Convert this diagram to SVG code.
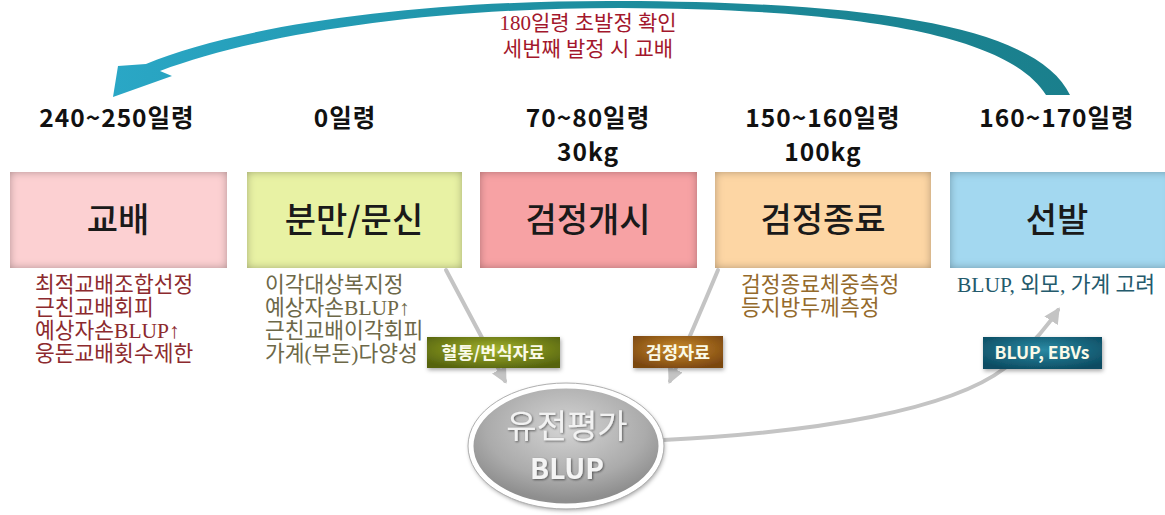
<svg xmlns="http://www.w3.org/2000/svg" width="1165" height="515" viewBox="0 0 1165 515">
<style>
.age{font-family:"Noto Sans CJK KR","Noto Sans",sans-serif;font-weight:700;font-size:24.5px;letter-spacing:1px;fill:#111;text-anchor:middle}
.title{font-family:"Noto Sans CJK KR",sans-serif;font-weight:500;font-size:34px;fill:#1a1a1a;text-anchor:middle}
.sub{font-family:"Liberation Serif","Noto Sans CJK KR",serif;font-size:21.5px}
.top{font-family:"Liberation Serif","Noto Sans CJK KR",serif;font-size:21px;fill:#a3172c;text-anchor:middle}
.lbl{font-family:"Noto Sans CJK KR","Noto Sans",sans-serif;font-weight:700;font-size:17.5px;fill:#fafae8;text-anchor:middle}
.gline{fill:none;stroke:#c4c4c4;stroke-width:4;stroke-linecap:round}
</style>
<defs>
<filter id="inset" x="-6%" y="-12%" width="112%" height="124%">
<feComponentTransfer in="SourceAlpha" result="inv"><feFuncA type="table" tableValues="1 0"/></feComponentTransfer>
<feGaussianBlur in="inv" stdDeviation="4" result="b"/>
<feComposite in="b" in2="SourceAlpha" operator="in" result="s"/>
<feFlood flood-color="#000" flood-opacity="0.6"/>
<feComposite in2="s" operator="in" result="sh"/>
<feMerge><feMergeNode in="SourceGraphic"/><feMergeNode in="sh"/></feMerge>
</filter>
<filter id="drop" x="-20%" y="-20%" width="140%" height="140%">
<feGaussianBlur in="SourceAlpha" stdDeviation="2"/>
<feOffset dx="1" dy="2" result="o"/>
<feFlood flood-color="#000" flood-opacity="0.35"/>
<feComposite in2="o" operator="in"/>
<feMerge><feMergeNode/><feMergeNode in="SourceGraphic"/></feMerge>
</filter>
<filter id="tsh" x="-10%" y="-20%" width="120%" height="140%">
<feGaussianBlur in="SourceAlpha" stdDeviation="1"/>
<feOffset dx="1" dy="1" result="o"/>
<feFlood flood-color="#000" flood-opacity="0.5"/>
<feComposite in2="o" operator="in"/>
<feMerge><feMergeNode/><feMergeNode in="SourceGraphic"/></feMerge>
</filter>
<linearGradient id="teal" x1="0" y1="0" x2="1" y2="0">
<stop offset="0" stop-color="#2aa7c6"/>
<stop offset="0.5" stop-color="#1d8d9e"/>
<stop offset="1" stop-color="#1a7f8c"/>
</linearGradient>
<radialGradient id="gOlive" cx="50%" cy="40%" r="65%">
<stop offset="0" stop-color="#a2b22c"/><stop offset="1" stop-color="#56640e"/>
</radialGradient>
<radialGradient id="gBrown" cx="50%" cy="40%" r="65%">
<stop offset="0" stop-color="#c98a2a"/><stop offset="1" stop-color="#7a4610"/>
</radialGradient>
<radialGradient id="gTeal" cx="50%" cy="40%" r="65%">
<stop offset="0" stop-color="#2a8aa4"/><stop offset="1" stop-color="#0c4c62"/>
</radialGradient>
<radialGradient id="gEll" cx="50%" cy="35%" r="60%">
<stop offset="0" stop-color="#d4d4d4"/><stop offset="0.7" stop-color="#ababab"/><stop offset="1" stop-color="#8e8e8e"/>
</radialGradient>
<marker id="ah" viewBox="0 0 10 10" refX="8" refY="5" markerWidth="4" markerHeight="4" orient="auto">
<path d="M0,0 L10,5 L0,10 Z" fill="#c4c4c4"/>
</marker>
</defs>

<g id="connectors">
<path id="arc-top" d="M1070,95 C1040,32 900,2 620,1 C420,0 240,25 146,64 L118,66 L113,97 L172,76 L160,71 C262,33 430,8 620,8 C880,9 1012,40 1046,95 Z" fill="url(#teal)"/>
<path class="gline" d="M446,270 Q478,330 505,381" marker-end="url(#ah)"/>
<path class="gline" d="M718,270 Q693,330 670,381" marker-end="url(#ah)"/>
<path class="gline" d="M663,440 C820,432 950,410 1005,368 Q1040,338 1058,310" marker-end="url(#ah)"/>
</g>

<g id="top-note">
<text class="top" x="588" y="30">180일령 초발정 확인</text>
<text class="top" x="588" y="56">세번째 발정 시 교배</text>
</g>

<g id="ages">
<text class="age" x="117" y="127">240~250일령</text>
<text class="age" x="345" y="127">0일령</text>
<text class="age" x="588" y="127">70~80일령</text>
<text class="age" x="588" y="161">30kg</text>
<text class="age" x="823" y="127">150~160일령</text>
<text class="age" x="823" y="161">100kg</text>
<text class="age" x="1057" y="127">160~170일령</text>
</g>

<g id="node-mating">
<rect x="10" y="172" width="217" height="96" fill="#fcd0d2" filter="url(#inset)"/>
<text class="title" x="118" y="232">교배</text>
<text class="sub" fill="#8c2a2e" x="35" y="292">최적교배조합선정</text>
<text class="sub" fill="#8c2a2e" x="35" y="315">근친교배회피</text>
<text class="sub" fill="#8c2a2e" x="35" y="338">예상자손BLUP↑</text>
<text class="sub" fill="#8c2a2e" x="35" y="361">웅돈교배횟수제한</text>
</g>

<g id="node-farrowing">
<rect x="247" y="172" width="215" height="96" fill="#e8f2a4" filter="url(#inset)"/>
<text class="title" x="354" y="232">분만/문신</text>
<text class="sub" fill="#6d6848" x="265" y="292">이각대상복지정</text>
<text class="sub" fill="#6d6848" x="265" y="315">예상자손BLUP↑</text>
<text class="sub" fill="#6d6848" x="265" y="338">근친교배이각회피</text>
<text class="sub" fill="#6d6848" x="265" y="361">가계(부돈)다양성</text>
</g>

<g id="node-test-start">
<rect x="480" y="172" width="217" height="96" fill="#f7a2a4" filter="url(#inset)"/>
<text class="title" x="588" y="232">검정개시</text>
</g>

<g id="node-test-end">
<rect x="715" y="172" width="216" height="96" fill="#fdd6a4" filter="url(#inset)"/>
<text class="title" x="823" y="232">검정종료</text>
<text class="sub" fill="#946a2c" x="741" y="292">검정종료체중측정</text>
<text class="sub" fill="#946a2c" x="741" y="315">등지방두께측정</text>
</g>

<g id="node-selection">
<rect x="950" y="172" width="222" height="96" fill="#a3d8f0" filter="url(#inset)"/>
<text class="title" x="1057" y="232">선발</text>
<text class="sub" fill="#245a6c" x="957" y="292">BLUP, 외모, 가계 고려</text>
</g>

<g id="label-pedigree">
<rect x="427" y="337" width="133" height="31" fill="url(#gOlive)" filter="url(#drop)"/>
<text class="lbl" x="493" y="359">혈통/번식자료</text>
</g>
<g id="label-test">
<rect x="633" y="336" width="90" height="32" fill="url(#gBrown)" filter="url(#drop)"/>
<text class="lbl" x="678" y="359">검정자료</text>
</g>
<g id="label-ebv">
<rect x="983" y="337" width="119" height="32" fill="url(#gTeal)" filter="url(#drop)"/>
<text class="lbl" x="1042" y="359">BLUP, EBVs</text>
</g>

<g id="node-evaluation">
<ellipse cx="566" cy="446" rx="95" ry="60" fill="url(#gEll)" stroke="#ffffff" stroke-width="5" filter="url(#drop)"/>
<ellipse cx="566" cy="446" rx="98" ry="63" fill="none" stroke="#b0b0b0" stroke-width="1"/>
<text x="567" y="438" filter="url(#tsh)" style="font-family:'Noto Sans CJK KR',sans-serif;font-size:33px;fill:#f2f2f2;text-anchor:middle">유전평가</text>
<text x="567" y="479" filter="url(#tsh)" style="font-family:'Noto Sans CJK KR','Noto Sans',sans-serif;font-weight:700;font-size:28px;fill:#f4f4f4;text-anchor:middle">BLUP</text>
</g>
</svg>
